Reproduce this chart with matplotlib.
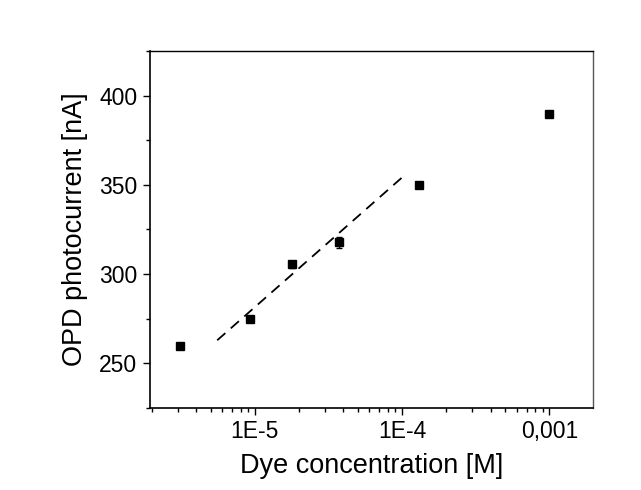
import matplotlib
matplotlib.use("Agg")
import matplotlib.pyplot as plt
from matplotlib.ticker import FixedLocator, FixedFormatter, LogLocator, NullFormatter, MultipleLocator

plt.rcParams['font.family'] = ['Liberation Sans', 'DejaVu Sans']

conc = [3.1e-6, 9.2e-6, 1.8e-5, 3.7e-5, 1.3e-4, 1.0e-3]
current = [259.5, 275.0, 305.3, 317.8, 350.0, 389.7]
current_err = [0.8, 1.5, 2.0, 3.0, 1.0, 1.0]

fit_x = [5.55e-6, 1.0e-4]
fit_y = [262.8, 354.1]

xtick_vals = [1e-5, 1e-4, 1e-3]
xtick_labels = ['1E-5', '1E-4', '0,001']
ytick_vals = [250, 300, 350, 400]

fig = plt.figure(figsize=(6.41, 4.90), dpi=100)
ax = fig.add_axes([0.2335, 0.168, 0.6911, 0.7279])

ax.errorbar(conc, current, yerr=current_err, fmt='s', color='black',
            markersize=5.5, elinewidth=1, capsize=2.5, capthick=1)
ax.plot(fit_x, fit_y, linestyle=(0, (6, 4)), color='black', linewidth=1.3)

ax.set_xscale('log')
ax.set_xlim(1.93e-6, 1.97e-3)
ax.set_ylim(225, 425)

ax.xaxis.set_major_locator(FixedLocator(xtick_vals))
ax.xaxis.set_major_formatter(FixedFormatter(xtick_labels))
ax.xaxis.set_minor_locator(LogLocator(base=10, subs=range(2, 10)))
ax.xaxis.set_minor_formatter(NullFormatter())
ax.yaxis.set_major_locator(FixedLocator(ytick_vals))
ax.yaxis.set_minor_locator(MultipleLocator(25))

ax.tick_params(which='major', direction='out', length=5, width=1, labelsize=16.5,
               top=False, right=False, pad=4)
ax.tick_params(which='minor', direction='out', length=3, width=1,
               top=False, right=False)

for side in ['left', 'bottom']:
    ax.spines[side].set_linewidth(1.2)
for side in ['top', 'right']:
    ax.spines[side].set_linewidth(1.0)
ax.spines['right'].set_color('#555555')

ax.set_xlabel('Dye concentration [M]', fontsize=19.5, labelpad=7)
ax.set_ylabel('OPD photocurrent [nA]', fontsize=19.5, labelpad=8)

fig.savefig('out.png', dpi=100, facecolor='white')
